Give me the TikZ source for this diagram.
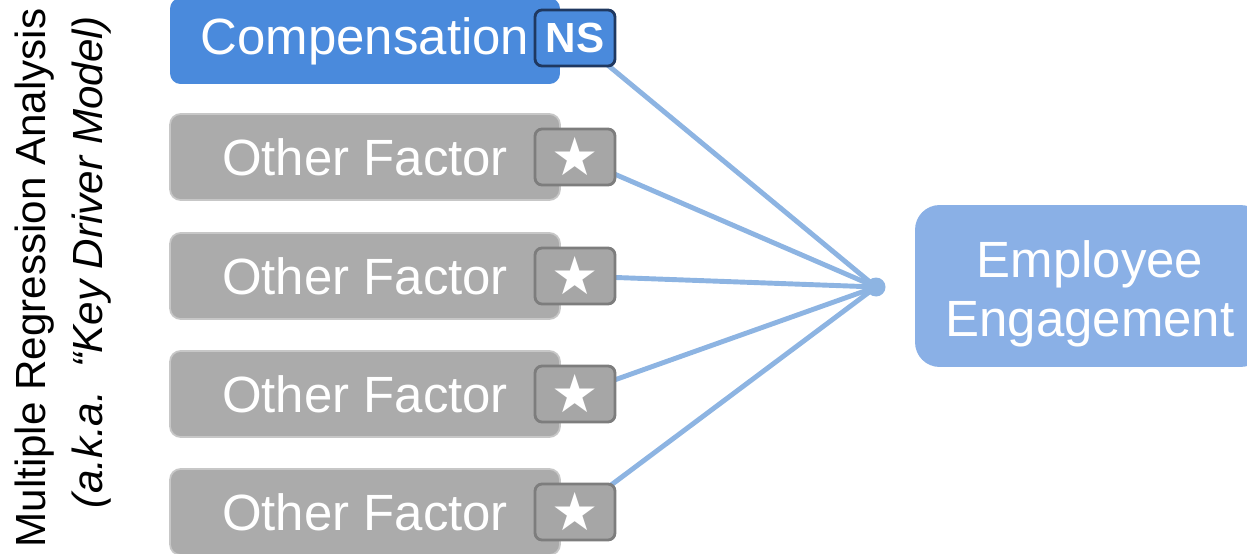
\documentclass[tikz,border=0pt]{standalone}
\usepackage{fontspec}
\setmainfont{Liberation Sans}
\newfontfamily\symfont{DejaVu Sans}
\usetikzlibrary{backgrounds}

\definecolor{compblue}{RGB}{74,138,220}
\definecolor{engblue}{RGB}{138,176,230}
\definecolor{linkblue}{RGB}{141,180,226}
\definecolor{factgray}{RGB}{171,171,171}
\definecolor{badgegray}{RGB}{166,166,166}
\definecolor{badgeline}{RGB}{125,125,125}
\definecolor{navy}{RGB}{31,56,96}

\tikzset{
  factor/.style={fill=factgray, draw=black!22, line width=1pt, rounded corners=6pt,
    minimum width=7.8cm, minimum height=1.72cm, inner sep=0pt, text=white,
    font=\fontsize{29}{34}\selectfont},
  badge/.style={fill=badgegray, draw=badgeline, line width=1.6pt, rounded corners=4pt,
    minimum width=1.6cm, minimum height=1.12cm, inner sep=0pt, text=white},
  link/.style={draw=linkblue, line width=2.8pt},
}

\begin{document}
\begin{tikzpicture}[x=0.02cm, y=-0.02cm]
  \useasboundingbox (0,0) rectangle (1247,554);
  \coordinate (hub) at (876,287);
  % side title
  \node[rotate=90, font=\fontsize{24}{28}\selectfont] (title) at (35,278)
    {Multiple Regression Analysis};
  \node[rotate=90, font=\fontsize{24}{28}\selectfont\itshape] (subtitle) at (92,262)
    {(a.k.a.\ \ “Key Driver Model)};
  % factor boxes with their significance badges
  \node[factor, fill=compblue, draw=none] (comp) at (365,41) {Compensation};
  \node[badge, fill=compblue, draw=navy] (ns) at (575,38)
    {\fontsize{24}{24}\selectfont\bfseries NS};
  \foreach \i/\y in {1/157,2/276,3/394,4/512} {
    \node[factor] (factor\i) at (365,\y) {Other Factor};
    \node[badge] (star\i) at (575,\y) {\symfont\fontsize{30}{30}\selectfont ★};
  }
  % outcome
  \node[fill=engblue, rounded corners=14pt, minimum width=7cm, minimum height=3.24cm,
    text=white, align=center, font=\fontsize{29}{34}\selectfont] (engage) at (1090,286)
    {\rule{0pt}{30pt}Employee\\Engagement};
  % links into the hub
  \begin{scope}[on background layer]
    \foreach \b in {ns,star1,star2,star3,star4}
      \draw[link] (\b.center) -- (hub);
    \fill[linkblue] (hub) circle (0.19cm);
  \end{scope}
\end{tikzpicture}
\end{document}
